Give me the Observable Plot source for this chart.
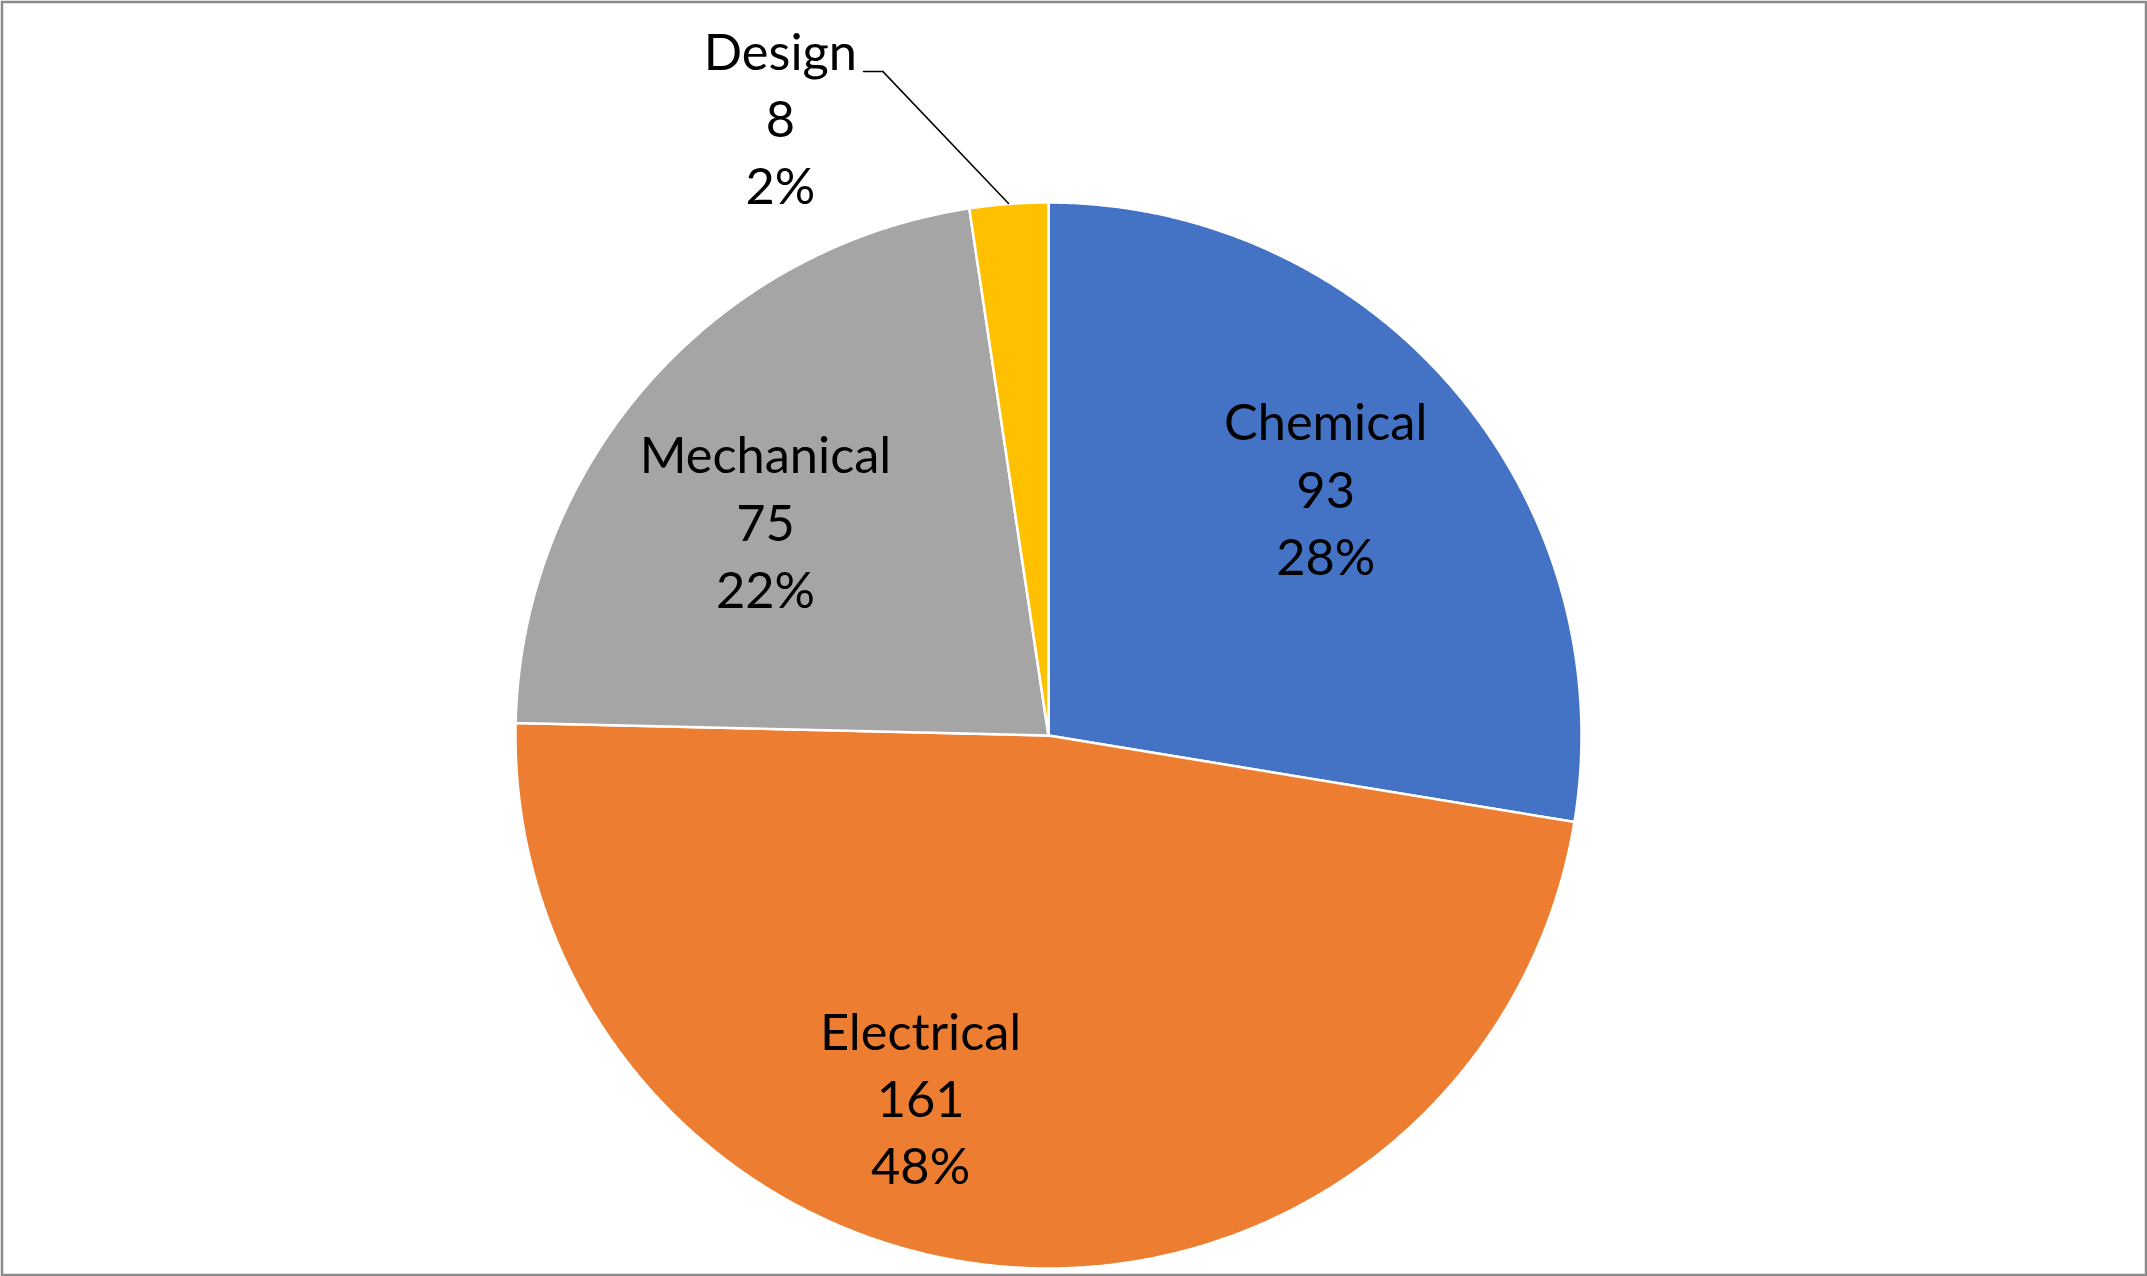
<!DOCTYPE html>
<html>
<head>
<meta charset="utf-8">
<script src="https://cdn.jsdelivr.net/npm/d3@7"></script>
<script src="https://cdn.jsdelivr.net/npm/@observablehq/plot@0.6"></script>
<style>
  html, body { margin: 0; padding: 0; background: #fff; overflow: hidden; }
</style>
</head>
<body>
<div id="chart"></div>
<script>
// Data
const categories = ["Chemical", "Electrical", "Mechanical", "Design"];
const values = [93, 161, 75, 8];
const colors = ["#4472C4", "#ED7D31", "#A5A5A5", "#FFC000"];

// Layout config (label anchors in pie-radius units, centre = 0,0)
const labelAnchor = {
  Chemical: [0.52, 0.468],
  Electrical: [-0.24, -0.675],
  Mechanical: [-0.531, 0.406],
  Design: [-0.503, 1.163]
};
const leader = [[-0.347, 1.246], [-0.311, 1.246], [-0.075, 0.998]];

const total = d3.sum(values);
const data = categories.map((c, i) => ({category: c, value: values[i]}));
const arcs = d3.pie().value(d => d.value).sort(null)(data);

const slicePts = [];
for (const a of arcs) {
  const c = a.data.category;
  slicePts.push({category: c, x: 0, y: 0});
  const n = Math.max(4, Math.ceil((a.endAngle - a.startAngle) / (Math.PI / 720)));
  for (let k = 0; k <= n; k++) {
    const t = a.startAngle + (a.endAngle - a.startAngle) * k / n;
    slicePts.push({category: c, x: Math.sin(t), y: Math.cos(t)});
  }
}

const labels = data.map(d => ({
  x: labelAnchor[d.category][0],
  y: labelAnchor[d.category][1],
  text: `${d.category}\n${d.value}\n${Math.round(d.value / total * 100)}%`
}));

const W = 2147, H = 1276, cx = 1048, cy = 735, R = 533;

const chart = Plot.plot({
  width: W,
  height: H,
  margin: 0,
  x: {domain: [-cx / R, (W - cx) / R], axis: null},
  y: {domain: [(cy - H) / R, cy / R], axis: null},
  color: {domain: categories, range: colors},
  marks: [
    Plot.line(slicePts, {
      x: "x", y: "y", z: "category", fill: "category",
      stroke: "white", strokeWidth: 2.5, curve: "linear-closed", strokeLinejoin: "round"
    }),
    Plot.line(leader, {x: d => d[0], y: d => d[1], stroke: "#000", strokeWidth: 1.5}),
    Plot.text(labels, {
      x: "x", y: "y", text: "text",
      fontSize: 50.5, lineHeight: 1.33, fill: "#000",
      fontFamily: "Lato, 'Open Sans', sans-serif", textAnchor: "middle"
    }),
    Plot.frame({stroke: "#8c8c8c", strokeWidth: 2.5, inset: 1.5})
  ]
});
document.getElementById("chart").appendChild(chart);
</script>
</body>
</html>
